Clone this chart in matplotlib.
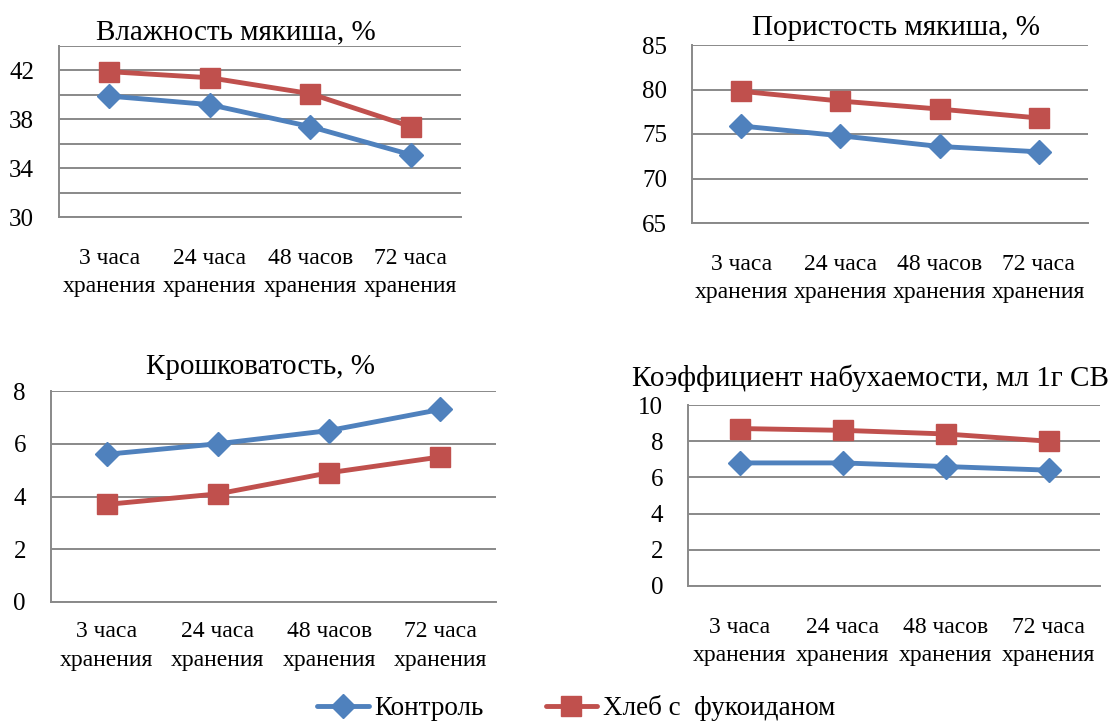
import matplotlib
matplotlib.use("Agg")
import matplotlib.pyplot as plt
from matplotlib.ticker import FixedLocator

plt.rcParams['font.family'] = ['Liberation Serif', 'DejaVu Serif']

categories = ["3 часа\nхранения", "24 часа\nхранения", "48 часов\nхранения", "72 часа\nхранения"]
series_names = ["Контроль", "Хлеб с  фукоиданом"]

titles = ["Влажность мякиша, %", "Пористость мякиша, %",
          "Крошковатость, %", "Коэффициент набухаемости, мл 1г СВ"]

moisture_control = [39.9, 39.2, 37.4, 35.1]
moisture_fucoidan = [41.9, 41.4, 40.1, 37.4]

porosity_control = [75.9, 74.8, 73.6, 73.0]
porosity_fucoidan = [79.8, 78.7, 77.8, 76.8]

crumbliness_control = [5.6, 6.0, 6.5, 7.3]
crumbliness_fucoidan = [3.7, 4.1, 4.9, 5.5]

swelling_control = [6.8, 6.8, 6.6, 6.4]
swelling_fucoidan = [8.7, 8.6, 8.4, 8.0]

W, H = 1118, 721
fig = plt.figure(figsize=(W / 100, H / 100), dpi=100)

def px_axes(left, right, top, bottom):
    return fig.add_axes([left / W, 1 - bottom / H, (right - left) / W, (bottom - top) / H])

BLUE = "#4F81BD"
RED = "#C0504D"
GRID = "#898989"

panels = [
    dict(box=(59, 461, 46, 217), ctrl=moisture_control, fuc=moisture_fucoidan,
         ylim=(30, 44), major=[30, 34, 38, 42], minor=[32, 36, 40, 44],
         title=titles[0], tx=0.44, tpad=5, xpad=22),
    dict(box=(692, 1088, 45, 223), ctrl=porosity_control, fuc=porosity_fucoidan,
         ylim=(65, 85), major=[65, 70, 75, 80, 85], minor=[],
         title=titles[1], tx=0.515, tpad=7, xpad=22),
    dict(box=(51, 496, 391, 602), ctrl=crumbliness_control, fuc=crumbliness_fucoidan,
         ylim=(0, 8), major=[0, 2, 4, 6, 8], minor=[],
         title=titles[2], tx=0.47, tpad=12, xpad=14),
    dict(box=(688, 1100, 405, 586), ctrl=swelling_control, fuc=swelling_fucoidan,
         ylim=(0, 10), major=[0, 2, 4, 6, 8, 10], minor=[],
         title=titles[3], tx=0.444, tpad=14, xpad=22),
]

x = list(range(len(categories)))
handles = None
for p in panels:
    ax = px_axes(*p['box'])
    l1, = ax.plot(x, p['ctrl'], color=BLUE, lw=3.5, marker='D', ms=12,
                  solid_capstyle='round', zorder=3, label=series_names[0])
    l2, = ax.plot(x, p['fuc'], color=RED, lw=3.5, marker='s', ms=14,
                  solid_capstyle='round', zorder=3, label=series_names[1])
    if handles is None:
        handles = [l1, l2]
    ax.set_xlim(-0.5, len(categories) - 0.5)
    ax.set_ylim(*p['ylim'])
    ax.yaxis.set_major_locator(FixedLocator(p['major']))
    ax.yaxis.set_minor_locator(FixedLocator(p['minor']))
    ax.set_xticks(x)
    ax.set_xticklabels(categories, fontsize=17, linespacing=1.45)
    ax.tick_params(axis='y', which='both', length=0, pad=18, labelsize=18)
    ax.tick_params(axis='x', length=0, pad=p['xpad'])
    ax.grid(axis='y', which='both', color=GRID, lw=1.4)
    ax.set_axisbelow(True)
    for s in ['top', 'right']:
        ax.spines[s].set_visible(False)
    for s in ['left', 'bottom']:
        ax.spines[s].set_color(GRID)
        ax.spines[s].set_linewidth(1.4)
    ax.set_title(p['title'], fontsize=21, x=p['tx'], pad=p['tpad'])

fig.legend(handles, series_names, loc='center', bbox_to_anchor=(576 / W, 1 - 708 / H),
           ncol=2, frameon=False, fontsize=19.5, handlelength=1.9, handletextpad=0.2,
           columnspacing=2.3)

fig.savefig("out.png", dpi=100, facecolor='white')
